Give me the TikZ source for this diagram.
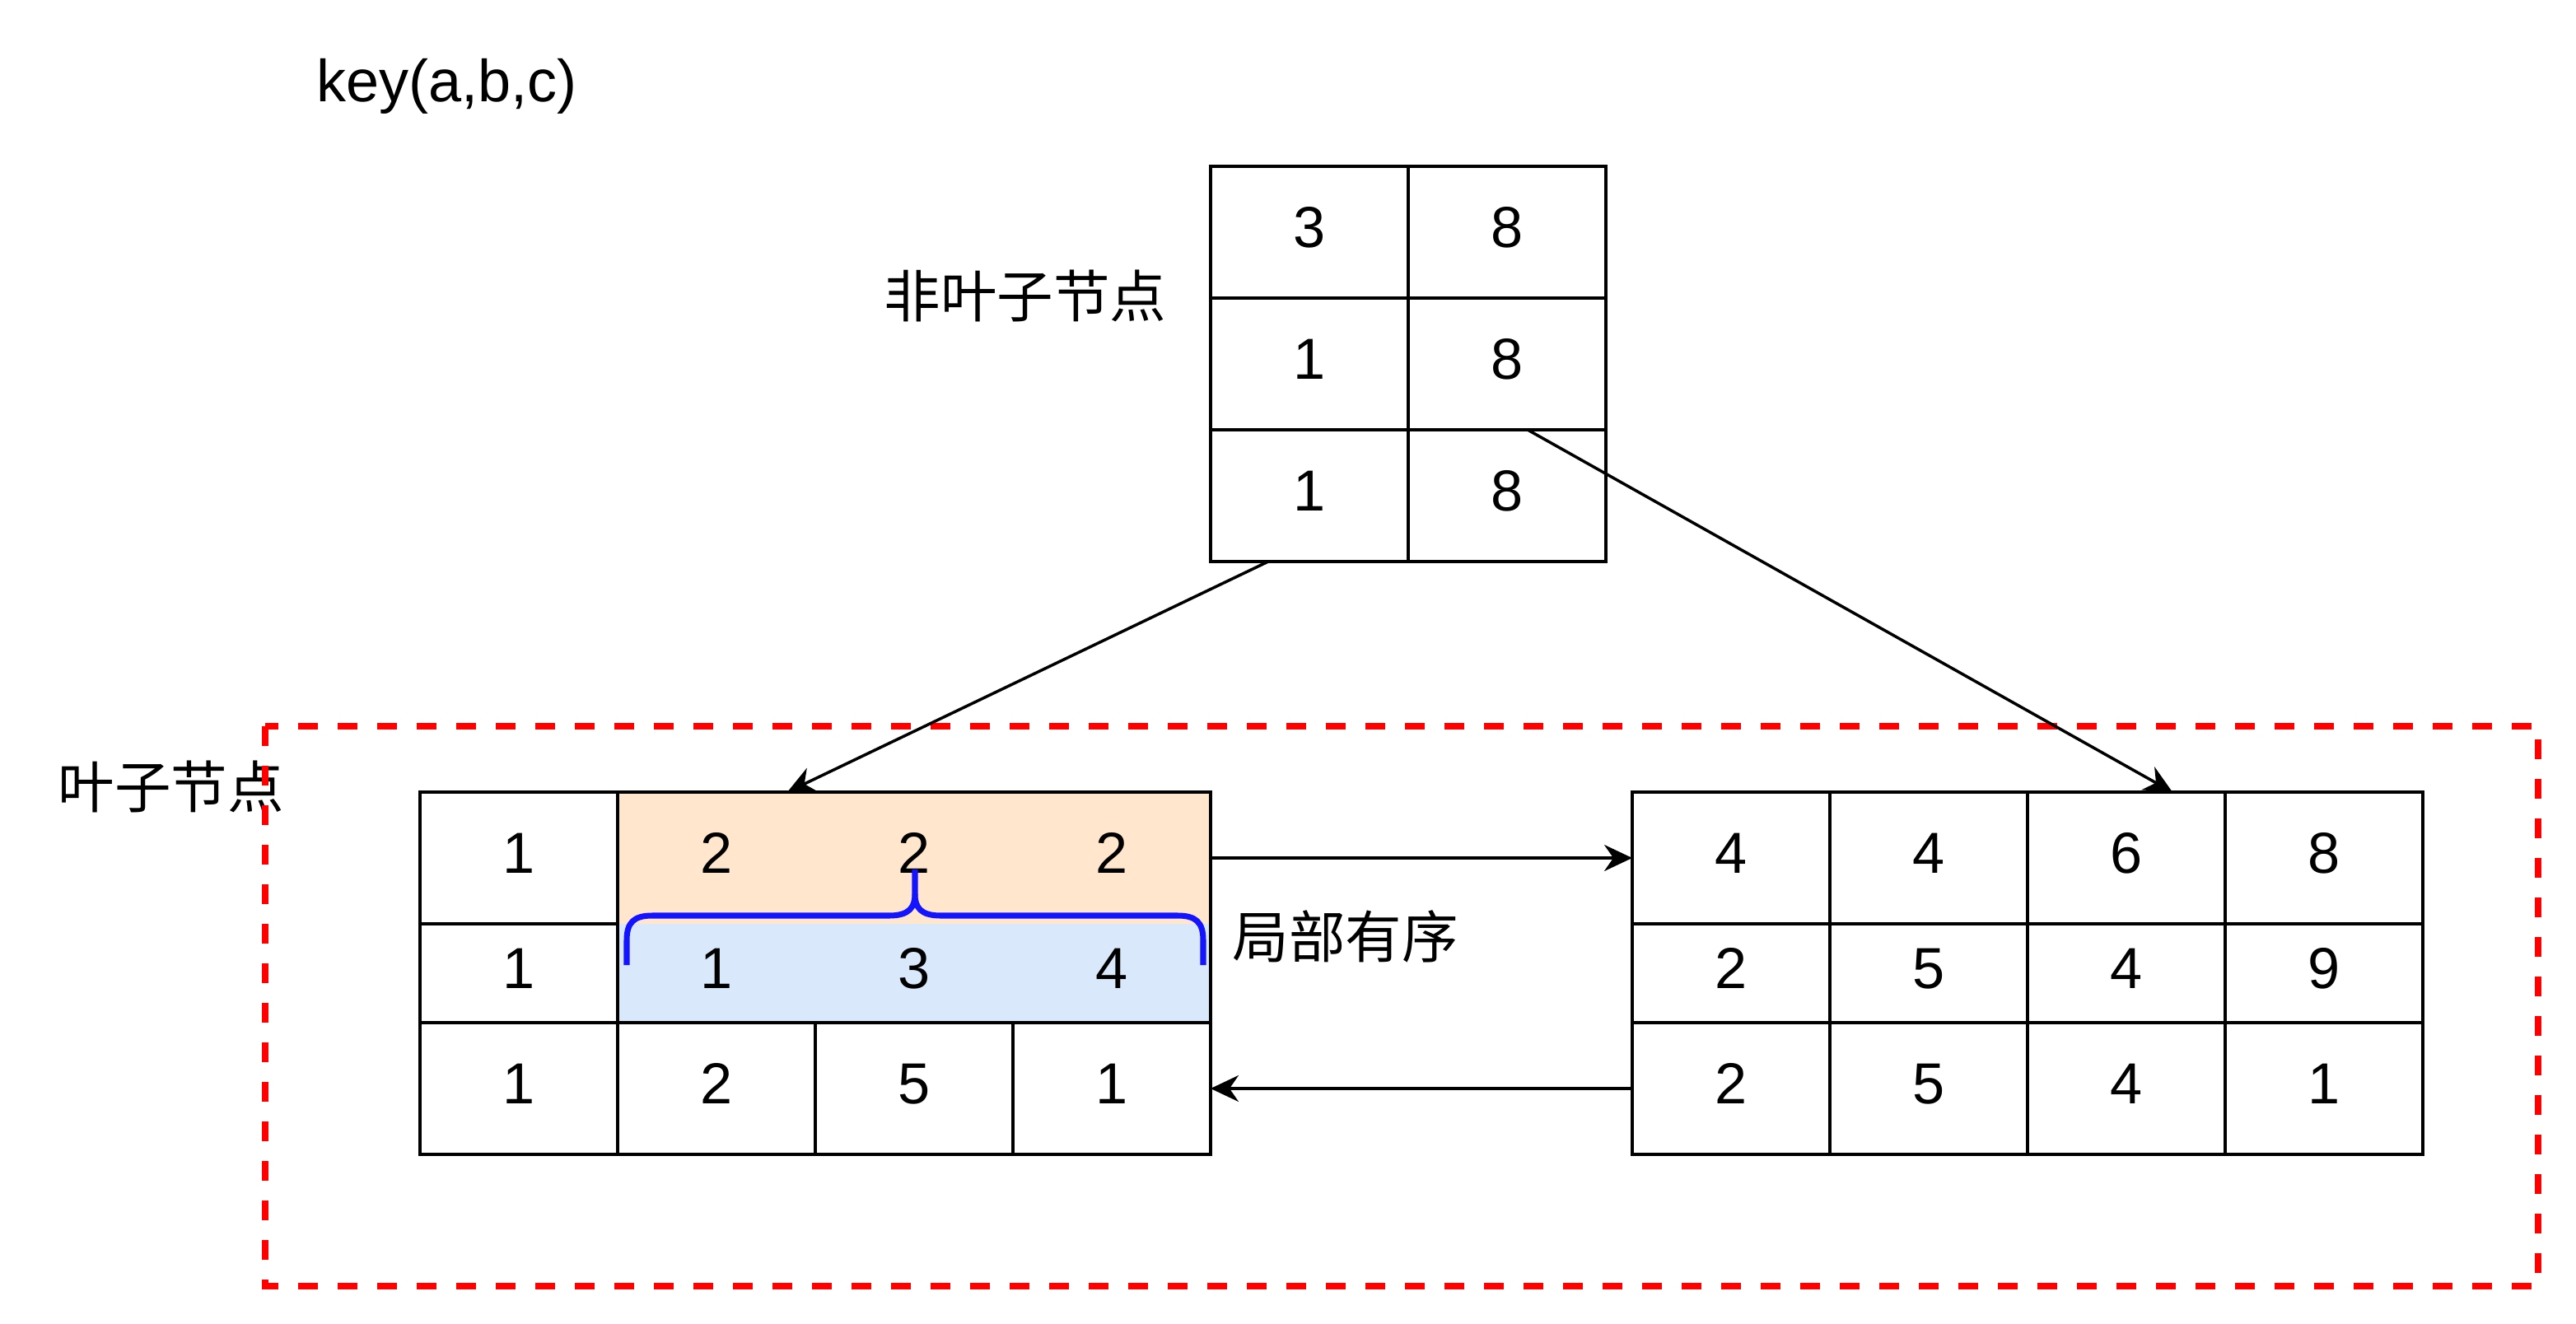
\documentclass[tikz,border=0pt]{standalone}
\usepackage{fontspec}
\setmainfont{Liberation Sans}
\newfontfamily\cjk{Noto Sans CJK SC}
\usepackage{tikz}
\usetikzlibrary{arrows.meta}
\definecolor{mylightorange}{RGB}{255,230,204}
\definecolor{mylightblue}{RGB}{218,232,252}
\definecolor{mybraceblue}{RGB}{20,20,255}
\definecolor{mydashred}{RGB}{255,0,0}
\newcommand{\widthcell}{2.4cm}
\newcommand{\heightkey}{1.6cm}
\newcommand{\heightmid}{1.2cm}
\tikzset{
    common/.style={anchor=west, draw, rectangle, line width=1.25pt, inner sep=0pt, outer sep=0pt, text depth=3.4pt, font=\fontsize{20}{24}\selectfont},
    cell/.style={common, minimum width=\widthcell, minimum height=\heightkey},
    midcell/.style={cell, minimum height=\heightmid},
    fillcell/.style={draw=none},
    caption/.style={anchor=west, inner sep=0pt, font=\cjk\fontsize{19.5}{24}\selectfont},
    link/.style={-{Stealth[length=0.34cm, width=0.32cm]}, line width=1pt},
    brace/.style={mybraceblue, line width=2pt},
    leafregion/.style={mydashred, line width=0.08cm, dash pattern=on 0.24cm off 0.24cm}
}

\begin{document}
\begin{tikzpicture}
        \useasboundingbox (0,0) rectangle (31.28,-16.08);

        \node[anchor=base west, font=\fontsize{20.5}{24}\selectfont] (keytitle) at (3.72,-1.24) {key(a,b,c)};

        \path (14.70,-2.82) node[cell] (n11) {3}
            to ++(0:\widthcell) node[cell] (n12) {8};
        \path (14.70,-4.42) node[cell] (n21) {1}
            to ++(0:\widthcell) node[cell] (n22) {8};
        \path (14.70,-6.02) node[cell] (n31) {1}
            to ++(0:\widthcell) node[cell] (n32) {8};
        \node[caption] (innerlabel) at (10.73,-3.59) {非叶子节点};

        \path (5.10,-10.42) node[cell] (a11) {1}
            to ++(0:\widthcell) node[cell, fillcell, fill=mylightorange] (a12) {2}
            to ++(0:\widthcell) node[cell, fillcell, fill=mylightorange] (a13) {2}
            to ++(0:\widthcell) node[cell, fillcell, fill=mylightorange] (a14) {2};
        \path (5.10,-11.82) node[midcell] (a21) {1}
            to ++(0:\widthcell) node[midcell, fillcell, fill=mylightblue] (a22) {1}
            to ++(0:\widthcell) node[midcell, fillcell, fill=mylightblue] (a23) {3}
            to ++(0:\widthcell) node[midcell, fillcell, fill=mylightblue] (a24) {4};
        \path (5.10,-13.22) node[cell] (a31) {1}
            to ++(0:\widthcell) node[cell] (a32) {2}
            to ++(0:\widthcell) node[cell] (a33) {5}
            to ++(0:\widthcell) node[cell] (a34) {1};
        \draw[line width=1.25pt] (a12.north west) rectangle (a24.south east);

        \path (19.82,-10.42) node[cell] (b11) {4}
            to ++(0:\widthcell) node[cell] (b12) {4}
            to ++(0:\widthcell) node[cell] (b13) {6}
            to ++(0:\widthcell) node[cell] (b14) {8};
        \path (19.82,-11.82) node[midcell] (b21) {2}
            to ++(0:\widthcell) node[midcell] (b22) {5}
            to ++(0:\widthcell) node[midcell] (b23) {4}
            to ++(0:\widthcell) node[midcell] (b24) {9};
        \path (19.82,-13.22) node[cell] (b31) {2}
            to ++(0:\widthcell) node[cell] (b32) {5}
            to ++(0:\widthcell) node[cell] (b33) {4}
            to ++(0:\widthcell) node[cell] (b34) {1};

        \draw[brace] (7.61,-11.72) -- (7.61,-11.42)
            .. controls (7.61,-11.20) and (7.70,-11.12) .. (7.92,-11.12) -- (10.80,-11.12)
            .. controls (11.04,-11.12) and (11.11,-11.02) .. (11.11,-10.86) -- (11.11,-10.56);
        \draw[brace] (14.61,-11.72) -- (14.61,-11.42)
            .. controls (14.61,-11.20) and (14.52,-11.12) .. (14.30,-11.12) -- (11.42,-11.12)
            .. controls (11.18,-11.12) and (11.11,-11.02) .. (11.11,-10.86);
        \node[caption] (orderlabel) at (14.96,-11.37) {局部有序};

        \node[caption] (leaflabel) at (0.70,-9.55) {叶子节点};
        \draw[leafregion] (3.22,-8.82) rectangle (30.82,-15.62);

        \draw[link] ([xshift=-0.5cm]n31.south) -- ([xshift=-0.34cm]a12.north east);
        \draw[link] ([xshift=0.25cm]n22.south) -- ([xshift=0.56cm]b13.north);
        \draw[link] (a14.east) -- (b11.west);
        \draw[link] (b31.west) -- (a34.east);

    \end{tikzpicture}
\end{document}
